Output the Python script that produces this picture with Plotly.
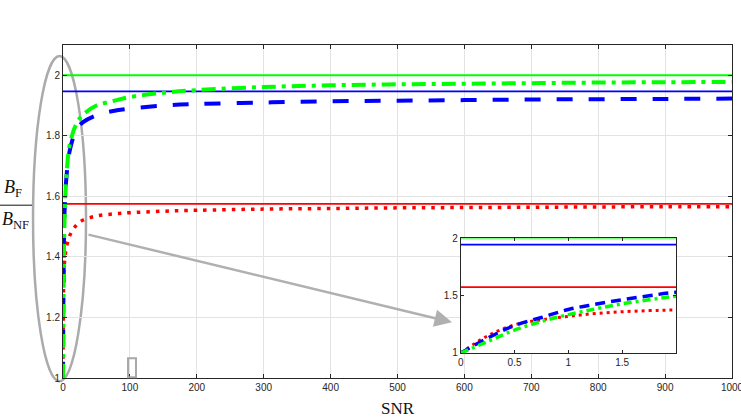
import plotly.graph_objects as go

# ---- data ----
snr = [0, 0.25, 0.5, 0.75, 1, 1.25, 1.5, 1.75, 2, 3, 5, 10, 20, 30, 50, 75, 100,
       150, 200, 300, 400, 500, 600, 700, 800, 900, 1000]
ratio_green = [1.0, 1.10, 1.20, 1.275, 1.335, 1.385, 1.43, 1.465, 1.495, 1.57, 1.66,
               1.77, 1.84, 1.87, 1.90, 1.915, 1.928, 1.942, 1.951, 1.961, 1.967,
               1.970, 1.972, 1.974, 1.976, 1.977, 1.978]
ratio_blue = [1.0, 1.13, 1.24, 1.31, 1.38, 1.425, 1.465, 1.50, 1.53, 1.58, 1.66,
              1.75, 1.82, 1.845, 1.868, 1.882, 1.890, 1.900, 1.905, 1.910, 1.914,
              1.916, 1.918, 1.920, 1.921, 1.922, 1.923]
ratio_red = [1.0, 1.15, 1.245, 1.29, 1.32, 1.345, 1.36, 1.37, 1.376, 1.40, 1.43,
             1.47, 1.505, 1.522, 1.535, 1.542, 1.546, 1.551, 1.554, 1.558, 1.560,
             1.562, 1.563, 1.564, 1.565, 1.566, 1.566]
limit_green = 2.0
limit_blue = 1.947
limit_red = 1.575
x_span = [0, 1000]

main_xticks = [0, 100, 200, 300, 400, 500, 600, 700, 800, 900, 1000]
main_yticks = [1, 1.2, 1.4, 1.6, 1.8, 2]
inset_xticks = [0, 0.5, 1, 1.5]
inset_yticks = [1, 1.5, 2]

GREEN, BLUE, RED = "#00ff00", "#0000ff", "#ff0000"
AX = "#262626"

fig = go.Figure()

def add_set(xa, ya, dashes, widths):
    for lim, col in [(limit_green, GREEN), (limit_blue, BLUE), (limit_red, RED)]:
        fig.add_trace(go.Scatter(x=x_span, y=[lim, lim], mode="lines",
                                 line=dict(color=col, width=1.8), cliponaxis=False,
                                 xaxis=xa, yaxis=ya, showlegend=False, hoverinfo="skip"))
    for ys, col, d, w in [(ratio_red, RED, dashes[2], widths[2]),
                          (ratio_blue, BLUE, dashes[1], widths[1]),
                          (ratio_green, GREEN, dashes[0], widths[0])]:
        fig.add_trace(go.Scatter(x=snr, y=ys, mode="lines",
                                 line=dict(color=col, width=w, dash=d, shape="spline"),
                                 xaxis=xa, yaxis=ya, showlegend=False, hoverinfo="skip"))

add_set("x", "y", ["14px,6px,4px,6px", "16px,16px", "3.5px,6px"], [4, 4, 3.5])
add_set("x2", "y2", ["8px,4px,3px,4px", "10px,6px", "3px,4px"], [3.5, 3.5, 3])

tickfont = dict(family="Liberation Sans, Arial, sans-serif", size=10, color=AX)

common = dict(ticks="inside", showline=True, linecolor=AX, linewidth=1, mirror="ticks",
              zeroline=False, tickfont=tickfont, tickcolor=AX, automargin=False)

fig.update_layout(
    width=741, height=418,
    margin=dict(l=63, r=9, t=45, b=40, autoexpand=False),
    paper_bgcolor="white", plot_bgcolor="white",
    xaxis=dict(range=[0, 1000], tickvals=main_xticks, ticklen=4,
               showgrid=True, gridcolor="#e3e3e3", gridwidth=1, ticklabeloverflow="allow",
               title=dict(text="SNR", font=dict(family="Liberation Serif, serif", size=17, color="#111"),
                          standoff=10), **common),
    yaxis=dict(range=[1, 2.1], tickvals=main_yticks, ticklen=4,
               showgrid=True, gridcolor="#e3e3e3", gridwidth=1, ticklabeloverflow="allow",
               **common),
    xaxis2=dict(domain=[0.5945, 0.9163], anchor="y2", range=[0, 2], tickvals=inset_xticks,
                ticklen=3, showgrid=False, **common),
    yaxis2=dict(domain=[0.0751, 0.419], anchor="x2", range=[1, 2], tickvals=inset_yticks,
                ticklen=3, showgrid=False, **common),
)

shapes = [
    # inset white background
    dict(type="rect", xref="x2", yref="y2", x0=0, x1=2, y0=1, y1=2,
         fillcolor="white", line=dict(width=0), layer="below"),
    # gray ellipse around the steep region
    dict(type="circle", xref="paper", yref="paper", x0=-0.0448, x1=0.0344, y0=-0.0099, y1=0.967,
         line=dict(color="#ababab", width=2.5), layer="below"),
    # small gray rectangle
    dict(type="rect", xref="paper", yref="paper", x0=0.0972, x1=0.1091, y0=0.002, y1=0.059,
         line=dict(color="#a8a8a8", width=2)),
    # fraction bar of y label
    dict(type="line", xref="paper", yref="paper", x0=-0.0957, x1=-0.0463, y0=0.519, y1=0.519,
         line=dict(color="#111", width=1)),
]
fig.update_layout(shapes=shapes)

serif = dict(family="Liberation Serif, serif", size=18, color="#111")
fig.add_annotation(xref="paper", yref="paper", x=(2 - 63) / 669, y=0.568, showarrow=False,
                   text="<i>B</i><sub>F</sub>", font=serif, xanchor="left", yanchor="middle")
fig.add_annotation(xref="paper", yref="paper", x=(0 - 63) / 669, y=0.474, showarrow=False,
                   text="<i>B</i><sub>NF</sub>", font=serif, xanchor="left", yanchor="middle")
# gray arrow from ellipse to inset
fig.add_annotation(xref="paper", yref="paper", x=(452 - 63) / 669, y=(377.7 - 322) / 332.7,
                   ax=87 - 452, ay=234 - 322, axref="pixel", ayref="pixel",
                   showarrow=True, arrowhead=2, arrowsize=1.4, arrowwidth=2.5,
                   arrowcolor="#b0b0b0", text="")

fig.write_html("out.html")
